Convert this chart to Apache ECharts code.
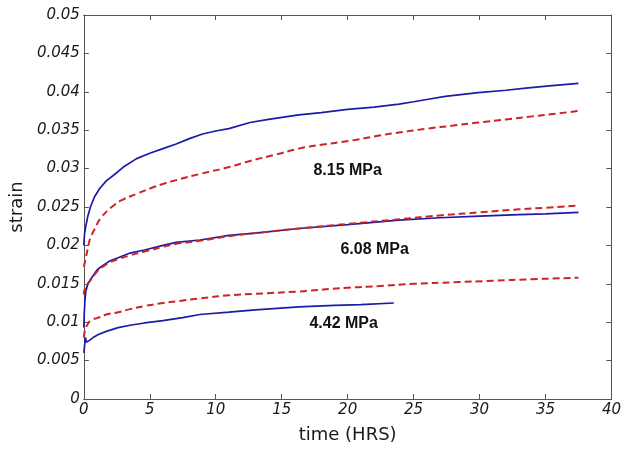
<!DOCTYPE html>
<html>
<head>
<meta charset="utf-8">
<script src="https://cdn.jsdelivr.net/npm/echarts@6/dist/echarts.min.js"></script>
<style>
  html, body { margin: 0; padding: 0; background: #fff; }
  #chart { width: 624px; height: 449px; }
</style>
</head>
<body>
<div id="chart"></div>
<script>
// Creep strain vs time at three stress levels: measured (solid) and model (dashed)

// 8.15 MPa
const t815Meas = [0, 0.05, 0.15, 0.3, 0.5, 0.8, 1.2, 1.7, 2.3, 3.0, 4.0, 5.0, 6.0, 7.0, 8.0, 9.0, 10, 11, 12.6, 14, 16.3, 18, 20, 22, 23.9, 25, 26, 27.4, 29.9, 32, 33.7, 35.5, 37.5];
const s815Meas = [0.0200, 0.0215, 0.0225, 0.0238, 0.0250, 0.0263, 0.0274, 0.0284, 0.0292, 0.0302, 0.0313, 0.0320, 0.0326, 0.0332, 0.0339, 0.0345, 0.0349, 0.0352, 0.0360, 0.0364, 0.0370, 0.0373, 0.0377, 0.0380, 0.0384, 0.0387, 0.0390, 0.0394, 0.0399, 0.0402, 0.0405, 0.0408, 0.0411];
const t815Model = [0, 0.1, 0.3, 0.5, 0.85, 1.26, 2.26, 3, 4, 5, 6, 7, 8.8, 11, 12.6, 14.5, 16.3, 18, 20.1, 22.4, 23.9, 26, 28, 29.9, 32, 34, 36, 37.5];
const s815Model = [0.0172, 0.0180, 0.0196, 0.0210, 0.0222, 0.0235, 0.0252, 0.0260, 0.0267, 0.0274, 0.0280, 0.0285, 0.0293, 0.0302, 0.0310, 0.0318, 0.0326, 0.0331, 0.0336, 0.0343, 0.0347, 0.0352, 0.0356, 0.0360, 0.0364, 0.0368, 0.0372, 0.0375];

// 6.08 MPa
const t608Meas = [0, 0.03, 0.08, 0.15, 0.3, 0.6, 1.0, 1.36, 2.0, 2.6, 3.5, 4.6, 6, 7, 8.8, 11, 13, 16.3, 20, 23.9, 27, 30, 33, 35, 37.5];
const s608Meas = [0.0093, 0.0110, 0.0128, 0.0140, 0.0150, 0.0158, 0.0168, 0.0173, 0.0180, 0.0184, 0.0190, 0.0194, 0.0200, 0.0204, 0.0207, 0.0213, 0.0216, 0.0222, 0.0227, 0.0233, 0.0236, 0.0238, 0.0240, 0.0241, 0.0243];
const t608Model = [0, 0.1, 0.3, 0.6, 1.0, 1.4, 2.0, 2.6, 3.5, 4.6, 6, 7, 8.8, 11, 13, 16.3, 20, 23.9, 27, 30, 33, 35, 37.5];
const s608Model = [0.0136, 0.0145, 0.0150, 0.0157, 0.0166, 0.0172, 0.0178, 0.0182, 0.0187, 0.0192, 0.0198, 0.0202, 0.0206, 0.0212, 0.0216, 0.0222, 0.0228, 0.0234, 0.0239, 0.0243, 0.0247, 0.0249, 0.0252];

// 4.42 MPa
const t442Meas = [0, 0.05, 0.12, 0.2, 0.4, 0.7, 1.1, 1.7, 2.6, 3.5, 4.6, 6, 7.5, 8.8, 11, 13, 16.3, 19, 21, 23.5];
const s442Meas = [0.0060, 0.0068, 0.0080, 0.0074, 0.0076, 0.0080, 0.0084, 0.0088, 0.0093, 0.0096, 0.0099, 0.0102, 0.0106, 0.0110, 0.0113, 0.0116, 0.0120, 0.0122, 0.0123, 0.0125];
const t442Model = [0, 0.1, 0.35, 0.6, 1.1, 1.7, 2.6, 3.5, 4.6, 6, 7, 8.8, 11, 13, 16.3, 20, 22.4, 25, 28, 31, 34, 37.5];
const s442Model = [0.0080, 0.0090, 0.0099, 0.0103, 0.0106, 0.0110, 0.0113, 0.0117, 0.0121, 0.0125, 0.0127, 0.0131, 0.0135, 0.0137, 0.0140, 0.0145, 0.0147, 0.0150, 0.0152, 0.0154, 0.0156, 0.0158];

// Stress labels and where they sit (time, strain)
const stressLabels = ['8.15 MPa', '6.08 MPa', '4.42 MPa'];
const labelTime = [20.0, 22.05, 19.7];
const labelStrain = [0.0298, 0.0194, 0.0098];

const zip = (t, s) => t.map((v, i) => [v, s[i]]);

const BLUE = '#1b1ba8';
const RED = '#cc2424';
const AXIS = '#555';
const TEXT = '#1a1a1a';
const tickFont = { fontFamily: 'DejaVu Sans', fontStyle: 'italic', fontSize: 15, color: TEXT };

function measured(t, s) {
  return {
    type: 'line', data: zip(t, s), showSymbol: false, smooth: false,
    lineStyle: { color: BLUE, width: 1.7 }, z: 3, silent: true
  };
}
function model(t, s) {
  return {
    type: 'line', data: zip(t, s), showSymbol: false, smooth: true,
    lineStyle: { color: RED, width: 2, type: [7, 4] }, z: 4, silent: true
  };
}

// Text-only markers for the stress levels
const labelSeries = {
  type: 'scatter',
  symbolSize: 0,
  itemStyle: { color: 'transparent', opacity: 1 },
  data: stressLabels.map((name, i) => ({ name, value: [labelTime[i], labelStrain[i]] })),
  label: {
    show: true, position: 'inside', formatter: p => p.name,
    fontFamily: 'Liberation Sans', fontWeight: 'bold', fontSize: 16,
    color: '#111', textBorderWidth: 0
  },
  labelLayout: { hideOverlap: false },
  silent: true, z: 5
};

const chart = echarts.init(document.getElementById('chart'), null, { renderer: 'canvas' });
chart.setOption({
  animation: false,
  backgroundColor: '#fff',
  grid: { left: 83, right: 11, top: 15, bottom: 47 },
  xAxis: [{
    type: 'value', min: 0, max: 40, interval: 5,
    name: 'time (HRS)', nameLocation: 'middle', nameGap: 27,
    nameTextStyle: { fontFamily: 'DejaVu Sans', fontSize: 18, color: TEXT },
    axisLine: { show: true, onZero: false, lineStyle: { color: AXIS, width: 1 } },
    axisTick: { show: true, inside: true, length: 5, lineStyle: { color: AXIS } },
    axisLabel: Object.assign({ margin: 4 }, tickFont),
    splitLine: { show: false }
  }, {
    type: 'value', min: 0, max: 40, interval: 5, position: 'top',
    axisLine: { show: true, onZero: false, lineStyle: { color: AXIS, width: 1 } },
    axisTick: { show: true, inside: true, length: 5, lineStyle: { color: AXIS } },
    axisLabel: { show: false }, splitLine: { show: false }
  }],
  yAxis: [{
    type: 'value', min: 0, max: 0.05, interval: 0.005,
    name: 'strain', nameLocation: 'middle', nameGap: 53,
    nameTextStyle: { fontFamily: 'DejaVu Sans', fontSize: 18, color: TEXT },
    axisLine: { show: true, onZero: false, lineStyle: { color: AXIS, width: 1 } },
    axisTick: { show: true, inside: true, length: 5, lineStyle: { color: AXIS } },
    axisLabel: Object.assign({ margin: 4 }, tickFont),
    splitLine: { show: false }
  }, {
    type: 'value', min: 0, max: 0.05, interval: 0.005, position: 'right',
    axisLine: { show: true, onZero: false, lineStyle: { color: AXIS, width: 1 } },
    axisTick: { show: true, inside: true, length: 5, lineStyle: { color: AXIS } },
    axisLabel: { show: false }, splitLine: { show: false }
  }],
  series: [
    measured(t815Meas, s815Meas),
    model(t815Model, s815Model),
    measured(t608Meas, s608Meas),
    model(t608Model, s608Model),
    measured(t442Meas, s442Meas),
    model(t442Model, s442Model),
    labelSeries
  ]
});
</script>
</body>
</html>
